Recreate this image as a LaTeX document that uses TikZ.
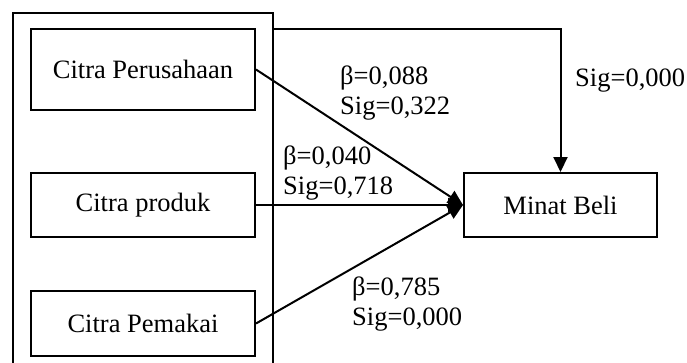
\documentclass[tikz,border=0pt]{standalone}
\usepackage{fontspec}
\setmainfont{Liberation Serif}
\usetikzlibrary{arrows.meta}
\begin{document}
\begin{tikzpicture}[x=1pt,y=-1pt,
  every node/.style={font=\fontsize{26.5}{30}\selectfont},
  varbox/.style={draw,line width=2pt,minimum width=224pt,inner sep=0pt},
  lbl/.style={inner sep=0pt,align=left,anchor=west},
  arr/.style={line width=2pt,-{Triangle[length=15pt,width=14pt]}},
  ]
\useasboundingbox (0,0) rectangle (687,362);
\clip (0,0) rectangle (687,362);
% outer group box
\draw[line width=2.3pt] (13,380) -- (13,13) -- (273,13) -- (273,380);
\node[varbox,minimum height=81pt] (b1) at (143,69.5) {Citra Perusahaan};
\node[varbox,minimum height=64pt] (b2) at (143,205) {Citra produk};
\node[varbox,minimum height=65pt] (b3) at (143,323.5) {Citra Pemakai};
\node[draw,line width=2pt,minimum width=193pt,minimum height=64pt,inner sep=0pt] (m) at (560.5,205) {Minat Beli};
\coordinate (g) at (273,29);
\draw[arr] (b1.east) -- (m.west);
\draw[arr] (b2.east) -- (m.west);
\draw[arr] (b3.east) -- (m.west);
\draw[arr] (g) -| (m.north);
\node[lbl] (l1) at (340,93) {β=0,088\\Sig=0,322};
\node[lbl] (l2) at (283,173) {β=0,040\\Sig=0,718};
\node[lbl] (l3) at (352,304) {β=0,785\\Sig=0,000};
\node[lbl] (l4) at (575,81) {Sig=0,000};
\end{tikzpicture}
\end{document}
